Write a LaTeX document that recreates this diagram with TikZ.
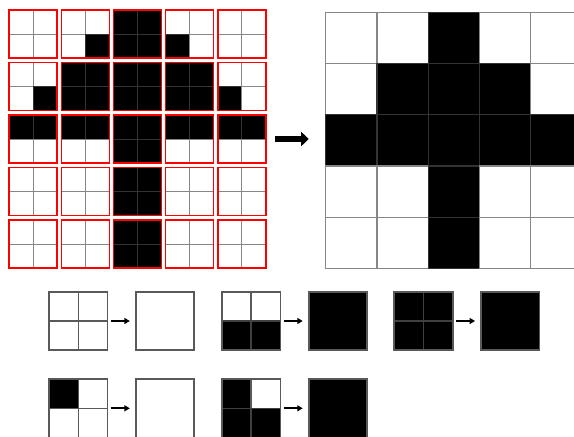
\documentclass[tikz,border=0pt]{standalone}
\usepackage{tikz}
\usetikzlibrary{arrows.meta, positioning, fit}

% bloc 2x2 de la grille de gauche : nom, x, y, HG, HD, BG, BD
\newcommand{\bloc}[7]{%
  \node[bloc] (#1) at (#2,#3) {};
  \draw[case#4] (#1.north west) rectangle (#1.center);
  \draw[case#5] (#1.north) rectangle (#1.east);
  \draw[case#6] (#1.west) rectangle (#1.south);
  \draw[case#7] (#1.center) rectangle (#1.south east);
  \draw[rouge] (#1.north west) rectangle (#1.south east);
}

% rangee de la grille de droite : y, cinq cases
\newcommand{\rangee}[6]{%
  \draw[grand#2] (325.7,#1) rectangle ++(51.2,51.2);
  \draw[grand#3] (376.9,#1) rectangle ++(51.2,51.2);
  \draw[grand#4] (428.1,#1) rectangle ++(51.2,51.2);
  \draw[grand#5] (479.3,#1) rectangle ++(51.2,51.2);
  \draw[grand#6] (530.5,#1) rectangle ++(51.2,51.2);
}

% regle : nom, x, y, HG, HD, BG, BD, resultat
\newcommand{\regle}[8]{%
  \node[petit] (#1) at (#2,#3) {};
  \draw[petit#4] (#1.north west) rectangle (#1.center);
  \draw[petit#5] (#1.north) rectangle (#1.east);
  \draw[petit#6] (#1.west) rectangle (#1.south);
  \draw[petit#7] (#1.center) rectangle (#1.south east);
  \draw[cadre] (#1.north west) rectangle (#1.south east);
  \node[petit, cadre, fill=#8, right=28.3pt of #1] (#1r) {};
  \draw[petitefleche] (#1) -- (#1r);
}

\begin{document}
\begin{tikzpicture}[
  x=1pt, y=-1pt,
  bloc/.style={
    rectangle, minimum size=48pt, inner sep=0pt, outer sep=0pt
  },
  casew/.style={fill=white, draw=gray!95, line width=1pt},
  caseb/.style={fill=black, draw=black!80!white, line width=1pt},
  rouge/.style={draw=red, line width=1.4pt},
  grandw/.style={fill=white, draw=gray!95, line width=1.2pt},
  grandb/.style={fill=black, draw=black!80!white, line width=1.2pt},
  petit/.style={
    rectangle, minimum size=58.5pt, inner sep=0pt, outer sep=0pt
  },
  petitw/.style={fill=white, draw=black!65, line width=1.6pt},
  petitb/.style={fill=black, draw=black!75, line width=1.6pt},
  cadre/.style={draw=black!65, line width=1.8pt},
  grosse/.style={
    arrows={-Triangle[length=7.5pt, width=14pt]},
    line width=6.5pt, shorten <=9pt, shorten >=17pt
  },
  petitefleche/.style={
    arrows={-Triangle[length=5.5pt, width=6pt]},
    line width=1.8pt, shorten <=3.3pt, shorten >=6pt
  }
]
\useasboundingbox (0,0) rectangle (574,437);
\clip (0,0) rectangle (574,437);

% ----- Grille de gauche -----
\bloc{b11}{33}{34}{w}{w}{w}{w}
\bloc{b12}{85.2}{34}{w}{w}{w}{b}
\bloc{b13}{137.4}{34}{b}{b}{b}{b}
\bloc{b14}{189.6}{34}{w}{w}{b}{w}
\bloc{b15}{241.8}{34}{w}{w}{w}{w}

\bloc{b21}{33}{86.5}{w}{w}{w}{b}
\bloc{b22}{85.2}{86.5}{b}{b}{b}{b}
\bloc{b23}{137.4}{86.5}{b}{b}{b}{b}
\bloc{b24}{189.6}{86.5}{b}{b}{b}{b}
\bloc{b25}{241.8}{86.5}{w}{w}{b}{w}

\bloc{b31}{33}{139}{b}{b}{w}{w}
\bloc{b32}{85.2}{139}{b}{b}{w}{w}
\bloc{b33}{137.4}{139}{b}{b}{b}{b}
\bloc{b34}{189.6}{139}{b}{b}{w}{w}
\bloc{b35}{241.8}{139}{b}{b}{w}{w}

\bloc{b41}{33}{191.5}{w}{w}{w}{w}
\bloc{b42}{85.2}{191.5}{w}{w}{w}{w}
\bloc{b43}{137.4}{191.5}{b}{b}{b}{b}
\bloc{b44}{189.6}{191.5}{w}{w}{w}{w}
\bloc{b45}{241.8}{191.5}{w}{w}{w}{w}

\bloc{b51}{33}{244}{w}{w}{w}{w}
\bloc{b52}{85.2}{244}{w}{w}{w}{w}
\bloc{b53}{137.4}{244}{b}{b}{b}{b}
\bloc{b54}{189.6}{244}{w}{w}{w}{w}
\bloc{b55}{241.8}{244}{w}{w}{w}{w}

\node[fit=(b11)(b55), inner sep=0pt, outer sep=0pt] (entree) {};

% ----- Grille de droite -----
\node[rectangle, minimum size=256pt, inner sep=0pt, outer sep=0pt] (resultat) at (453.7,140.3) {};
\rangee{12.3}{w}{w}{b}{w}{w}
\rangee{63.5}{w}{b}{b}{b}{w}
\rangee{114.7}{b}{b}{b}{b}{b}
\rangee{165.9}{w}{w}{b}{w}{w}
\rangee{217.1}{w}{w}{b}{w}{w}

\draw[grosse] (entree) -- (entree -| resultat.west);

% ----- Regles -----
\regle{r1}{78.3}{321}{w}{w}{w}{w}{white}
\regle{r2}{251.2}{321}{w}{w}{b}{b}{black}
\regle{r3}{423.5}{321}{b}{b}{b}{b}{black}
\regle{r4}{78.3}{408.3}{b}{w}{w}{w}{white}
\regle{r5}{251.2}{408.3}{b}{w}{b}{b}{black}

\end{tikzpicture}
\end{document}
